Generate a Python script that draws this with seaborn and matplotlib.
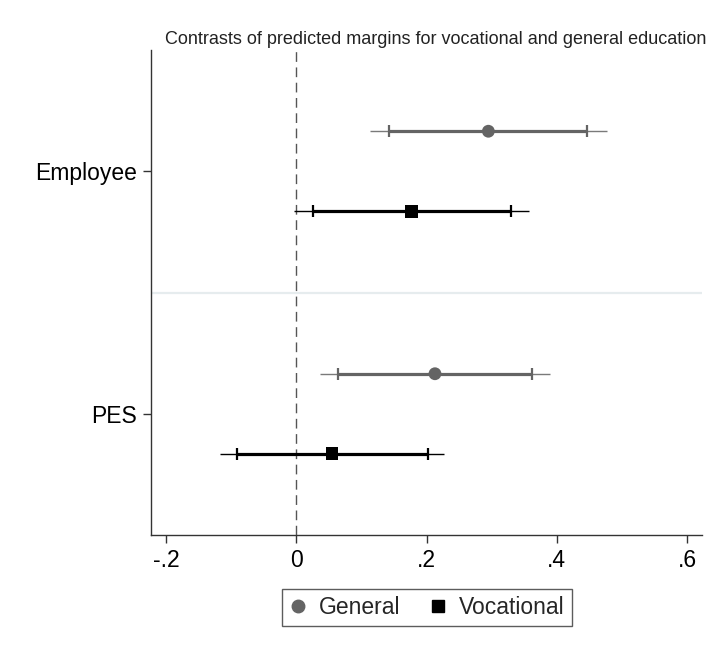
import matplotlib
matplotlib.use("Agg")
import matplotlib.pyplot as plt
from matplotlib.lines import Line2D
import seaborn as sns
import pandas as pd
import numpy as np

categories = ["Employee", "PES"]
groups = ["General", "Vocational"]

general_est = [0.295, 0.213]
general_lo90 = [0.143, 0.064]
general_hi90 = [0.446, 0.362]
general_lo95 = [0.114, 0.036]
general_hi95 = [0.477, 0.390]

vocational_est = [0.177, 0.055]
vocational_lo90 = [0.025, -0.091]
vocational_hi90 = [0.329, 0.202]
vocational_lo95 = [-0.003, -0.117]
vocational_hi95 = [0.357, 0.227]

xticks = [-0.2, 0, 0.2, 0.4, 0.6]
xticklabels = ["-.2", "0", ".2", ".4", ".6"]
title = "Contrasts of predicted margins for vocational and general education"

sns.set_theme(style="white")
plt.rcParams['font.family'] = ['Liberation Sans', 'DejaVu Sans']

rows = []
for i, c in enumerate(categories):
    rows.append(dict(cat=c, idx=i, group="General", est=general_est[i],
                     lo90=general_lo90[i], hi90=general_hi90[i],
                     lo95=general_lo95[i], hi95=general_hi95[i]))
    rows.append(dict(cat=c, idx=i, group="Vocational", est=vocational_est[i],
                     lo90=vocational_lo90[i], hi90=vocational_hi90[i],
                     lo95=vocational_lo95[i], hi95=vocational_hi95[i]))
df = pd.DataFrame(rows)
offsets = {"General": -0.165, "Vocational": 0.165}
df["y"] = df["idx"] + 1 + df["group"].map(offsets)

colors = {"General": "#646464", "Vocational": "#000000"}
outer_colors = {"General": "#7a7a7a", "Vocational": "#000000"}
markers = {"General": "o", "Vocational": "s"}

fig = plt.figure(figsize=(7.25, 6.59), dpi=100)
ax = fig.add_axes([151/725, 1-535/659, (702-151)/725, (535-50)/659])

# separator and reference line
ax.axhline(1.5, color="#e6ecee", lw=1.6, zorder=0)
ax.axvline(0, color="#555555", lw=1, ls=(0, (7, 4)), zorder=1)

for _, r in df.iterrows():
    ax.hlines(r.y, r.lo95, r.hi95, color=outer_colors[r.group], lw=1.0, zorder=2)
    ax.hlines(r.y, r.lo90, r.hi90, color=colors[r.group], lw=2.3, zorder=3)
    ax.plot([r.lo90, r.hi90], [r.y, r.y], ls="none", marker="|", ms=9, mew=1.6,
            color=colors[r.group], zorder=3)

sns.scatterplot(data=df, x="est", y="y", hue="group", style="group",
                palette=colors, markers=markers, s=85, linewidth=0,
                ax=ax, zorder=4, legend=False)

ax.set_ylim(2.5, 0.5)
ax.set_xlim(-0.223, 0.623)
ax.set_yticks([1, 2])
ax.set_yticklabels(categories)
ax.set_xticks(xticks)
ax.set_xticklabels(xticklabels)
ax.set_xlabel("")
ax.set_ylabel("")
ax.tick_params(axis="both", which="both", direction="out", length=6, width=1,
               color="#333333", labelsize=16.5, labelcolor="black", pad=4,
               bottom=True, left=True)
for s in ["top", "right"]:
    ax.spines[s].set_visible(False)
for s in ["left", "bottom"]:
    ax.spines[s].set_color("#333333")
    ax.spines[s].set_linewidth(1)

fig.text(436/725, 1-39/659, title, ha="center", va="center", fontsize=13,
         color="#222222")

handles = [Line2D([], [], ls="none", marker=markers[g], color=colors[g],
                  markersize=9) for g in groups]
leg = fig.legend(handles, groups, loc="upper center", ncol=2,
                 bbox_to_anchor=(427/725, 1-582/659), frameon=True,
                 fancybox=False, edgecolor="#333333", fontsize=16.5,
                 handlelength=0.8, handletextpad=0.5, columnspacing=1.25,
                 borderpad=0.3, borderaxespad=0.3)
leg.get_frame().set_linewidth(1)

fig.savefig("out.png", dpi=100, facecolor="white")
